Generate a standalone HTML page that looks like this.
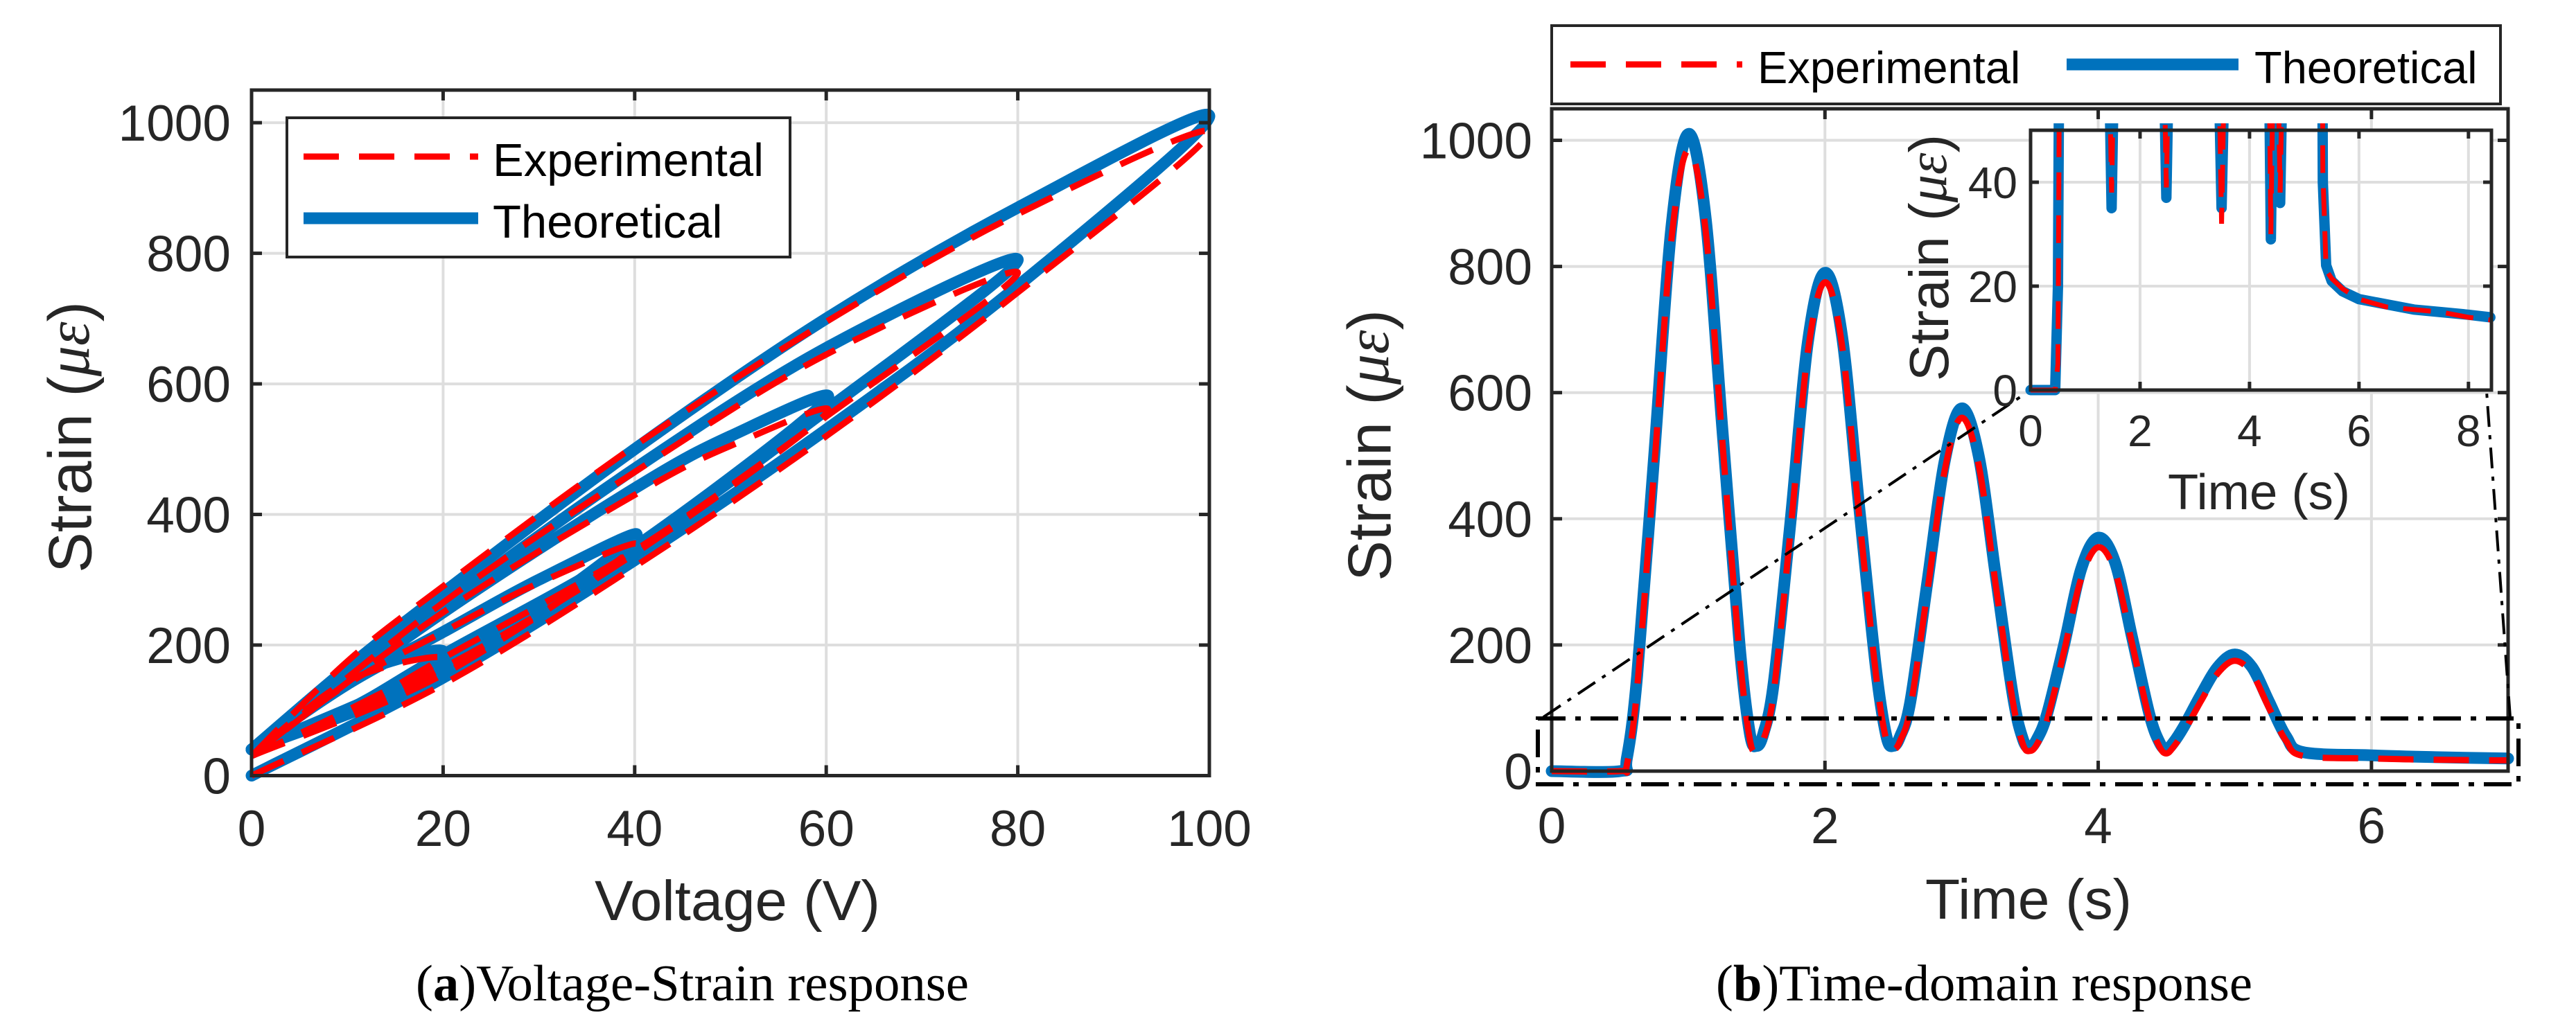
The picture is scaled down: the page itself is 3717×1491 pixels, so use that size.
<!DOCTYPE html>
<html><head><meta charset="utf-8"><style>
html,body{margin:0;padding:0;background:#fff;}
svg{display:block;}
text{font-family:"Liberation Sans",sans-serif;fill:#262626;}
</style></head><body>
<svg id="fig" width="3717" height="1491" viewBox="0 0 3717 1491" xmlns="http://www.w3.org/2000/svg">
<defs>
<clipPath id="insetClip"><rect x="2922" y="178" width="680" height="395"/></clipPath>
</defs>
<g id="left"></g>
<g id="right"></g>
<text x="600" y="1444" textLength="798" lengthAdjust="spacingAndGlyphs" style="font-family:'Liberation Serif',serif;font-size:74px;fill:#000">(<tspan font-weight="bold">a</tspan>)Voltage-Strain response</text>
<text x="2476" y="1444" textLength="774" lengthAdjust="spacingAndGlyphs" style="font-family:'Liberation Serif',serif;font-size:74px;fill:#000">(<tspan font-weight="bold">b</tspan>)Time-domain response</text>
</svg>
<script>
// ---------- data: Voltage-Strain hysteresis ----------
const loopVoltTheo = [
 [0,20,40,60,80,100, 80,60,40,20,10,0],
 [0,10,20,40,60,80, 60,40,20,0],
 [0,20,40,60, 50,40,20,0],
 [0,20,40, 30,20,10,0],
 [0,10,20, 10,0]
];
const loopStrainTheo = [
 [0,150,330,530,750,1010, 870,700,500,280,165,40],
 [40,100,185,350,560,790, 655,470,260,40],
 [40,170,350,575, 520,440,250,40],
 [40,160,365, 300,220,140,40],
 [40,100,190, 150,40]
];
const loopVoltExp = [
 [0,20,40,60,80,100, 80,60,40,20,10,0],
 [0,10,20,40,60,80, 60,40,20,0],
 [0,20,40,60, 50,40,20,0],
 [0,20,40, 30,20,10,0],
 [0,10,20, 10,0]
];
const loopStrainExp = [
 [0,140,320,520,740,985, 860,695,505,290,175,30],
 [30,95,180,345,550,770, 645,465,265,30],
 [30,165,340,555, 505,430,250,30],
 [30,155,350, 295,220,140,30],
 [30,100,180, 145,30]
];
const leftXTicks = [0,20,40,60,80,100];
const leftYTicks = [0,200,400,600,800,1000];

// ---------- data: time-domain ----------
const timeT = [0,0.5,0.55,0.625,0.75,0.875,1.0,1.125,1.25,1.375,1.45,1.5,1.55,1.625,1.75,1.875,2.0,2.125,2.25,2.375,2.45,2.5,2.55,2.625,2.75,2.875,3.0,3.125,3.25,3.375,3.45,3.5,3.55,3.625,3.75,3.875,4.0,4.125,4.25,4.375,4.45,4.5,4.55,4.625,4.75,4.875,5.0,5.125,5.25,5.375,5.5,6.0,6.5,7.0];
const strainTheo = [0,0,20,150,500,860,1010,880,540,200,60,40,60,140,400,680,790,690,420,160,55,40,55,110,300,490,575,500,310,120,50,38,50,90,200,320,370,330,210,90,45,35,45,70,120,165,185,165,110,55,30,25,22,20];
const strainExp = [0,0,10,130,480,840,985,860,520,185,50,32,50,125,385,665,775,675,405,150,48,34,48,100,285,475,560,485,295,110,42,32,42,80,190,305,355,315,200,82,38,28,38,62,110,155,175,155,100,48,24,20,18,17];
const rightXTicks = [0,2,4,6];
const rightYTicks = [0,200,400,600,800,1000];

// ---------- data: inset ----------
const insetT = [0,0.45,0.5,0.55,0.6,1.38,1.44,1.48,1.52,1.58,2.38,2.44,2.48,2.52,2.58,3.38,3.44,3.49,3.54,3.6,4.3,4.36,4.39,4.43,4.48,4.52,4.56,4.6,4.66,5.28,5.34,5.4,5.5,5.7,6.0,6.5,7.0,7.5,8.0,8.4];
const insetTheo = [0,0,20,120,200,200,60,35,60,200,200,60,37,60,200,200,60,35,60,200,200,60,29,60,150,60,36,60,200,200,40,24,21,19,17.5,16.5,15.5,15,14.5,14];
const insetExp = [0,0,5,110,200,200,62,38,62,200,200,62,39,62,200,200,62,32,62,200,200,62,30,62,150,62,38,62,200,200,42,23,21.5,19.5,17.5,16,15.5,15,14,13.5];
const insetXTicks = [0,2,4,6,8];
const insetYTicks = [0,20,40];

const NS = "http://www.w3.org/2000/svg";
function el(parent, tag, attrs){
  const e = document.createElementNS(NS, tag);
  for (const k in attrs) e.setAttribute(k, attrs[k]);
  parent.appendChild(e);
  return e;
}
const GRID="#dedede", AX="#262626", BLUE="#0072bd", RED="#ff0000";

function linPath(xs, ys, sx, sy){
  return xs.map((v,i)=>(i?"L":"M")+sx(v).toFixed(1)+","+sy(ys[i]).toFixed(1)).join("");
}
function smoothPath(xs, ys, sx, sy){
  const P = xs.map((v,i)=>[sx(v), sy(ys[i])]);
  let d = "M"+P[0][0].toFixed(1)+","+P[0][1].toFixed(1);
  for (let i=0;i<P.length-1;i++){
    const p0=P[Math.max(0,i-1)], p1=P[i], p2=P[i+1], p3=P[Math.min(P.length-1,i+2)];
    const c1=[p1[0]+(p2[0]-p0[0])/6, p1[1]+(p2[1]-p0[1])/6];
    const c2=[p2[0]-(p3[0]-p1[0])/6, p2[1]-(p3[1]-p1[1])/6];
    d += "C"+c1[0].toFixed(1)+","+c1[1].toFixed(1)+" "+c2[0].toFixed(1)+","+c2[1].toFixed(1)+" "+p2[0].toFixed(1)+","+p2[1].toFixed(1);
  }
  return d;
}
function ylabel(parent, cx, cy, size, name){
  const t = el(parent,"text",{x:cx, y:cy, "text-anchor":"middle", transform:`rotate(-90 ${cx} ${cy})`, "font-size":size, "dominant-baseline":"middle"});
  
  
  t.appendChild(document.createTextNode("Strain ("));
  const ts = el(t,"tspan",{"font-style":"italic", style:"font-family:'Liberation Serif',serif"});
  ts.textContent = "με";
  t.appendChild(document.createTextNode(")"));
}

// ================= LEFT CHART =================
(function(){
  const g = document.getElementById("left");
  const L=363, R=1745, T=130, B=1119.5;
  const sx = v => L + (v-0)/100*(R-L);
  const sy = v => B - v/1050*(B-T);
  leftXTicks.forEach(v=>{
    const l = el(g,"line",{x1:sx(v),x2:sx(v),y1:T,y2:B,stroke:GRID,"stroke-width":4});
    
    
  });
  leftYTicks.forEach(v=>{
    const l = el(g,"line",{x1:L,x2:R,y1:sy(v),y2:sy(v),stroke:GRID,"stroke-width":4});
    
    
  });
  loopVoltTheo.forEach((xs,i)=>{
    const p = el(g,"path",{d:smoothPath(xs,loopStrainTheo[i],sx,sy),fill:"none",stroke:BLUE,"stroke-width":17,"stroke-linejoin":"round","stroke-linecap":"round"});
    
    
  });
  loopVoltExp.forEach((xs,i)=>{
    const p = el(g,"path",{d:smoothPath(xs,loopStrainExp[i],sx,sy),fill:"none",stroke:RED,"stroke-width":9,"stroke-dasharray":"51 29"});
    
    
  });
  const box = el(g,"rect",{x:L,y:T,width:R-L,height:B-T,fill:"none",stroke:AX,"stroke-width":5});
  
  
  leftXTicks.forEach(v=>{
    el(g,"line",{x1:sx(v),x2:sx(v),y1:B,y2:B-15,stroke:AX,"stroke-width":5});
    el(g,"line",{x1:sx(v),x2:sx(v),y1:T,y2:T+15,stroke:AX,"stroke-width":5});
    const t = el(g,"text",{x:sx(v),y:1221,"text-anchor":"middle","font-size":73});
    
    
    t.textContent = v;
  });
  leftYTicks.forEach(v=>{
    el(g,"line",{x1:L,x2:L+15,y1:sy(v),y2:sy(v),stroke:AX,"stroke-width":5});
    el(g,"line",{x1:R,x2:R-15,y1:sy(v),y2:sy(v),stroke:AX,"stroke-width":5});
    const t = el(g,"text",{x:333,y:sy(v)+26,"text-anchor":"end","font-size":73});
    
    
    t.textContent = v;
  });
  const xl = el(g,"text",{x:858,y:1328,"font-size":82,textLength:412,lengthAdjust:"spacingAndGlyphs"});
  
  
  xl.textContent = "Voltage (V)";
  ylabel(g,108,631,88,'y-axis-title');
  const lg = el(g,"g",{});
  
  
  el(lg,"rect",{x:414,y:170,width:726,height:201,fill:"#fff",stroke:AX,"stroke-width":4});
  const e1 = el(lg,"line",{x1:438,x2:690,y1:226,y2:226,stroke:RED,"stroke-width":9,"stroke-dasharray":"51 29"});
  
  
  const e2 = el(lg,"line",{x1:438,x2:690,y1:315,y2:315,stroke:BLUE,"stroke-width":17});
  
  
  const t1 = el(lg,"text",{x:711,y:254,"font-size":67,style:"fill:#000"});
  
  
  t1.textContent = "Experimental";
  const t2 = el(lg,"text",{x:711,y:343,"font-size":67,style:"fill:#000"});
  
  
  t2.textContent = "Theoretical";
})();

// ================= RIGHT CHART =================
(function(){
  const g = document.getElementById("right");
  const L=2239, R=3619, T=157, B=1113;
  const sx = v => L + v/7*(R-L);
  const sy = v => B - v/1050*(B-T);
  rightXTicks.forEach(v=>{
    const l = el(g,"line",{x1:sx(v),x2:sx(v),y1:T,y2:B,stroke:GRID,"stroke-width":4});
    
    
  });
  rightYTicks.forEach(v=>{
    const l = el(g,"line",{x1:L,x2:R,y1:sy(v),y2:sy(v),stroke:GRID,"stroke-width":4});
    
    
  });
  const pb = el(g,"path",{d:smoothPath(timeT,strainTheo,sx,sy),fill:"none",stroke:BLUE,"stroke-width":17,"stroke-linejoin":"round","stroke-linecap":"round"});
  
  
  const pr = el(g,"path",{d:smoothPath(timeT,strainExp,sx,sy),fill:"none",stroke:RED,"stroke-width":9,"stroke-dasharray":"51 29"});
  
  
  const box = el(g,"rect",{x:L,y:T,width:R-L,height:B-T,fill:"none",stroke:AX,"stroke-width":5});
  
  
  rightXTicks.forEach(v=>{
    el(g,"line",{x1:sx(v),x2:sx(v),y1:B,y2:B-15,stroke:AX,"stroke-width":5});
    el(g,"line",{x1:sx(v),x2:sx(v),y1:T,y2:T+15,stroke:AX,"stroke-width":5});
    const t = el(g,"text",{x:sx(v),y:1217,"text-anchor":"middle","font-size":73});
    
    
    t.textContent = v;
  });
  rightYTicks.forEach(v=>{
    el(g,"line",{x1:L,x2:L+15,y1:sy(v),y2:sy(v),stroke:AX,"stroke-width":5});
    el(g,"line",{x1:R,x2:R-15,y1:sy(v),y2:sy(v),stroke:AX,"stroke-width":5});
    const t = el(g,"text",{x:2211,y:sy(v)+26,"text-anchor":"end","font-size":73});
    
    
    t.textContent = v;
  });
  const xl = el(g,"text",{x:2778,y:1326,"font-size":82,textLength:298,lengthAdjust:"spacingAndGlyphs"});
  
  
  xl.textContent = "Time (s)";
  ylabel(g,1983,643,88,'y-axis-title');

  const zr = el(g,"rect",{x:2219,y:1037,width:1415,height:95,fill:"none",stroke:"#000","stroke-width":6,"stroke-dasharray":"40 14 8 14"});
  
  
  const c1 = el(g,"line",{x1:2227,y1:1035,x2:2930,y2:563,stroke:"#000","stroke-width":4,"stroke-dasharray":"30 12 6 12"});
  
  
  const c2 = el(g,"line",{x1:3622,y1:1035,x2:3588,y2:565,stroke:"#000","stroke-width":4,"stroke-dasharray":"30 12 6 12"});
  
  

  const lg = el(g,"g",{});
  
  
  el(lg,"rect",{x:2239,y:37,width:1369,height:113,fill:"#fff",stroke:AX,"stroke-width":4});
  const e1 = el(lg,"line",{x1:2266,x2:2514,y1:93,y2:93,stroke:RED,"stroke-width":9,"stroke-dasharray":"51 29"});
  
  
  const e2 = el(lg,"line",{x1:2982,x2:3230,y1:93,y2:93,stroke:BLUE,"stroke-width":17});
  
  
  const t1 = el(lg,"text",{x:2536,y:120,"font-size":65,style:"fill:#000"});
  
  
  t1.textContent = "Experimental";
  const t2 = el(lg,"text",{x:3253,y:120,"font-size":65,style:"fill:#000"});
  
  
  t2.textContent = "Theoretical";

  const ig = el(g,"g",{});
  
  
  const iL=2930, iR=3595, iT=188, iB=563;
  const ix = v => iL + v/8.42*(iR-iL);
  const iy = v => iB - v/50*(iB-iT);
  el(ig,"rect",{x:iL,y:iT,width:iR-iL,height:iB-iT,fill:"#fff"});
  insetXTicks.forEach(v=>{
    const l = el(ig,"line",{x1:ix(v),x2:ix(v),y1:iT,y2:iB,stroke:GRID,"stroke-width":4});
    
    
  });
  insetYTicks.forEach(v=>{
    const l = el(ig,"line",{x1:iL,x2:iR,y1:iy(v),y2:iy(v),stroke:GRID,"stroke-width":4});
    
    
  });
  const cg = el(ig,"g",{"clip-path":"url(#insetClip)"});
  const ib = el(cg,"path",{d:linPath(insetT,insetTheo,ix,iy),fill:"none",stroke:BLUE,"stroke-width":15,"stroke-linejoin":"round","stroke-linecap":"round"});
  
  
  const ir = el(cg,"path",{d:linPath(insetT,insetExp,ix,iy),fill:"none",stroke:RED,"stroke-width":7,"stroke-dasharray":"40 22"});
  
  
  const ibox = el(ig,"rect",{x:iL,y:iT,width:iR-iL,height:iB-iT,fill:"none",stroke:AX,"stroke-width":5});
  
  
  insetXTicks.forEach(v=>{
    el(ig,"line",{x1:ix(v),x2:ix(v),y1:iB,y2:iB-12,stroke:AX,"stroke-width":5});
    el(ig,"line",{x1:ix(v),x2:ix(v),y1:iT,y2:iT+12,stroke:AX,"stroke-width":5});
    const t = el(ig,"text",{x:ix(v),y:644,"text-anchor":"middle","font-size":64});
    
    
    t.textContent = v;
  });
  insetYTicks.forEach(v=>{
    el(ig,"line",{x1:iL,x2:iL+12,y1:iy(v),y2:iy(v),stroke:AX,"stroke-width":5});
    el(ig,"line",{x1:iR,x2:iR-12,y1:iy(v),y2:iy(v),stroke:AX,"stroke-width":5});
    const t = el(ig,"text",{x:2911,y:iy(v)+23,"text-anchor":"end","font-size":64});
    
    
    t.textContent = v;
  });
  const ixl = el(ig,"text",{x:3128,y:735,"font-size":72,textLength:263,lengthAdjust:"spacingAndGlyphs"});
  
  
  ixl.textContent = "Time (s)";
  ylabel(ig,2790,372,80,'inset-y-axis-title');
})();
</script>
</body></html>
